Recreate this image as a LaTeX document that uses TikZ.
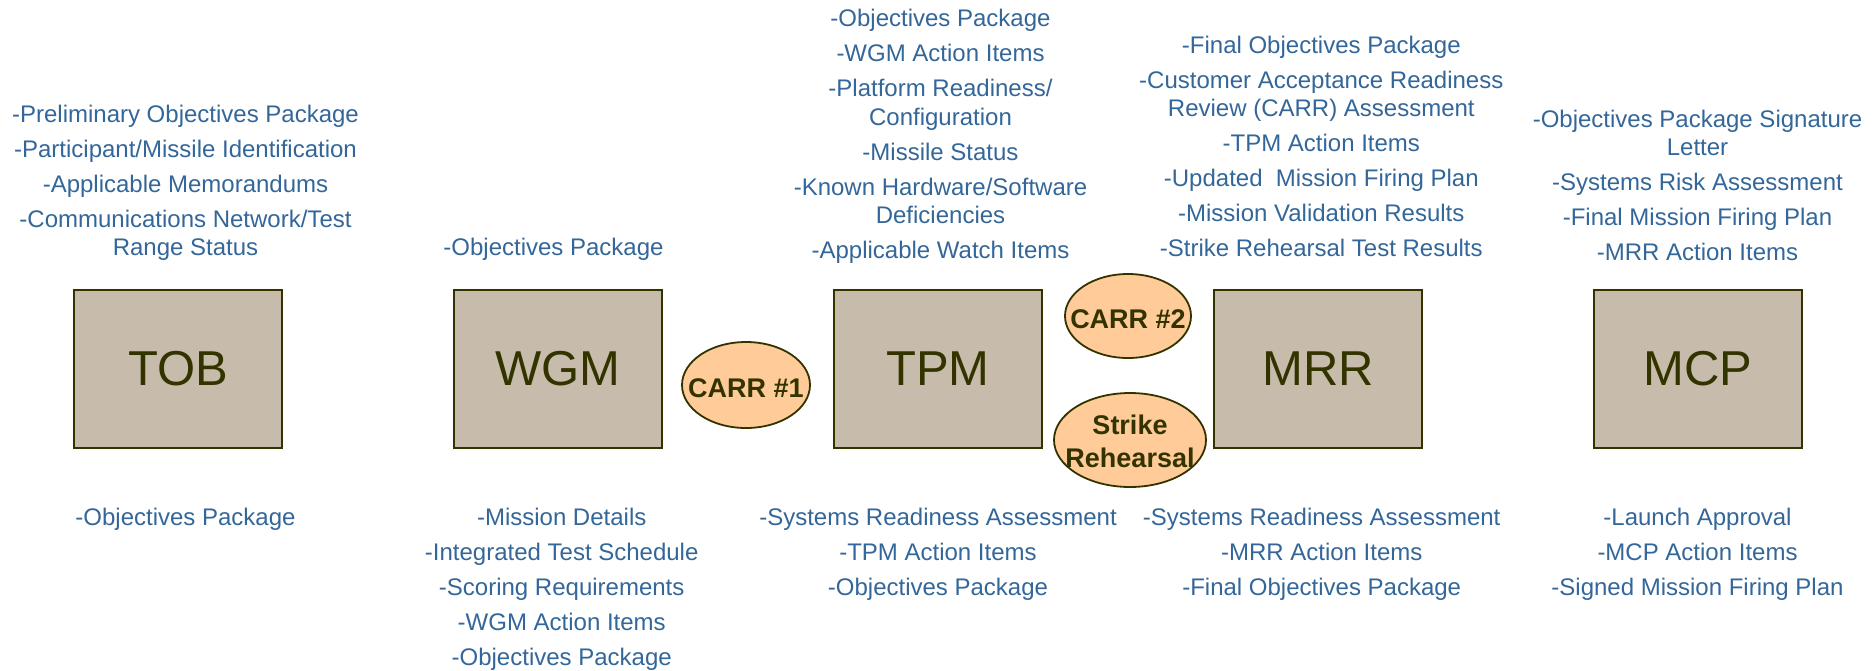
\documentclass[tikz,border=0pt]{standalone}
\usepackage{fontspec}
\setmainfont{Liberation Sans}
\usetikzlibrary{shapes.geometric}
\definecolor{txtblue}{RGB}{51,102,153}
\definecolor{darkolive}{RGB}{51,51,0}
\definecolor{boxfill}{RGB}{199,187,171}
\definecolor{ellfill}{RGB}{255,204,153}
\newcommand{\fl}{\rule{0pt}{20pt}}
\newcommand{\fb}{\rule{0pt}{24pt}}
\begin{document}
\begin{tikzpicture}[x=1pt,y=-1pt,
  stagebox/.style={draw=darkolive, line width=2.5pt, fill=boxfill,
    minimum width=208pt, minimum height=158pt, inner sep=0pt,
    text=darkolive, font=\fontsize{49}{58}\selectfont},
  review/.style={ellipse, draw=darkolive, line width=1.8pt, fill=ellfill, inner sep=0pt},
  reviewtxt/.style={text=darkolive, inner sep=0pt, align=center,
    font=\bfseries\fontsize{27}{33}\selectfont},
  itemlist/.style={text=txtblue, inner sep=0pt, align=center, anchor=north,
    font=\fontsize{24}{28.4}\selectfont}]
\useasboundingbox (0,0) rectangle (1873,670);

% stage boxes
\node[stagebox] (tob) at (178,369) {TOB};
\node[stagebox] (wgm) at (558,369) {WGM};
\node[stagebox] (tpm) at (938,369) {TPM};
\node[stagebox] (mrr) at (1318,369) {MRR};
\node[stagebox] (mcp) at (1698,369) {MCP};

% review ellipses
\node[review, minimum width=128pt, minimum height=86pt] (carra) at (746,385) {};
\node[reviewtxt, anchor=base] (carratxt) at (746,397.5) {CARR \#1};
\node[review, minimum width=126pt, minimum height=84pt] (carrb) at (1128,316) {};
\node[reviewtxt, anchor=base] (carrbtxt) at (1128,328) {CARR \#2};
\node[review, minimum width=152pt, minimum height=94pt] (strike) at (1130,440) {};
\node[reviewtxt, anchor=north] (striketxt) at (1130,410) {\fb Strike\\Rehearsal};

% inputs (above)
\node[itemlist] (tobin) at (185.5,102.3) {\fl-Preliminary Objectives Package\\[6.6pt]-Participant/Missile Identification\\[6.6pt]-Applicable Memorandums\\[6.6pt]-Communications Network/Test\\Range Status};
\node[itemlist] (wgmin) at (553.5,235) {\fl-Objectives Package};
\node[itemlist] (tpmin) at (940.5,6.7) {\fl-Objectives Package\\[6.6pt]-WGM Action Items\\[6.6pt]-Platform Readiness/\\Configuration\\[6.6pt]-Missile Status\\[6.6pt]-Known Hardware/Software\\Deficiencies\\[6.6pt]-Applicable Watch Items};
\node[itemlist] (mrrin) at (1321.3,33.3) {\fl-Final Objectives Package\\[6.6pt]-Customer Acceptance Readiness\\Review (CARR) Assessment\\[6.6pt]-TPM Action Items\\[6.6pt]-Updated\ \ Mission Firing Plan\\[6.6pt]-Mission Validation Results\\[6.6pt]-Strike Rehearsal Test Results};
\node[itemlist] (mcpin) at (1697.5,107.3) {\fl-Objectives Package Signature\\Letter\\[6.6pt]-Systems Risk Assessment\\[6.6pt]-Final Mission Firing Plan\\[6.6pt]-MRR Action Items};

% outputs (below)
\node[itemlist] (tobout) at (185.5,505) {\fl-Objectives Package};
\node[itemlist] (wgmout) at (561.7,505.5) {\fl-Mission Details\\[6.6pt]-Integrated Test Schedule\\[6.6pt]-Scoring Requirements\\[6.6pt]-WGM Action Items\\[6.6pt]-Objectives Package};
\node[itemlist] (tpmout) at (938,505) {\fl-Systems Readiness Assessment\\[6.6pt]-TPM Action Items\\[6.6pt]-Objectives Package};
\node[itemlist] (mrrout) at (1321.7,505) {\fl-Systems Readiness Assessment\\[6.6pt]-MRR Action Items\\[6.6pt]-Final Objectives Package};
\node[itemlist] (mcpout) at (1697.5,505) {\fl-Launch Approval\\[6.6pt]-MCP Action Items\\[6.6pt]-Signed Mission Firing Plan};
\end{tikzpicture}
\end{document}
